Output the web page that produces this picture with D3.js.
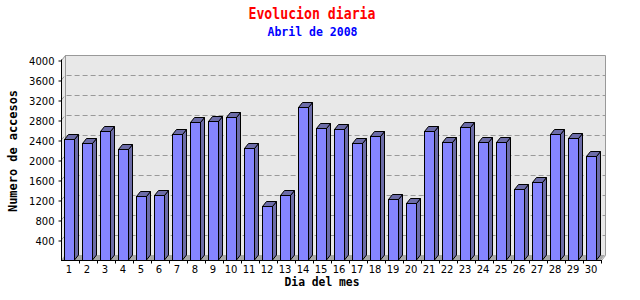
<!DOCTYPE html>
<html>
<head>
<meta charset="utf-8">
<script src="https://cdn.jsdelivr.net/npm/d3@7"></script>
<style>
  body { margin: 0; background: #fff; }
  .tick-label { font-family: "DejaVu Sans", sans-serif; font-size: 10px; fill: #000; }
  .mono { font-family: "DejaVu Sans Mono", monospace; font-weight: bold; }
</style>
</head>
<body>
<div id="chart"></div>
<script>
// dias del mes y accesos
var days = d3.range(1, 31).map(String);
var accesos = [2430, 2350, 2590, 2230, 1290, 1310, 2530, 2770, 2790, 2870,
               2250, 1090, 1310, 3070, 2650, 2630, 2350, 2490, 1230, 1150,
               2590, 2370, 2670, 2370, 2370, 1430, 1570, 2530, 2450, 2090];
var yTicks = [400, 800, 1200, 1600, 2000, 2400, 2800, 3200, 3600, 4000];
var gridValues = [400, 800, 1200, 1600, 2000, 2400, 2800, 3200, 3600];

var width = 640, height = 300;
var pLeft = 61, pRight = 601, pTop = 60, pBottom = 260;
var dx = 4, dy = 5;   // 3d depth

var svg = d3.select("#chart").append("svg")
    .attr("width", width)
    .attr("height", height);

var x = d3.scaleBand().domain(days).range([pLeft, pRight]);
var y = d3.scaleLinear().domain([0, 4000]).range([pBottom, pTop]);

// back wall + left side
svg.append("path")
    .attr("d", "M" + pLeft + "," + pBottom + "L" + pLeft + "," + pTop +
               "L" + (pLeft + dx) + "," + (pTop - dy) +
               "L" + (pRight + dx) + "," + (pTop - dy) +
               "L" + (pRight + dx) + "," + (pBottom - dy) +
               "L" + pRight + "," + pBottom + "Z")
    .style("fill", "#e8e8e8");

// floor
svg.append("path")
    .attr("d", "M" + pLeft + "," + pBottom + "L" + (pLeft + dx) + "," + (pBottom - dy) +
               "L" + (pRight + dx) + "," + (pBottom - dy) + "L" + pRight + "," + pBottom + "Z")
    .style("fill", "#a8a8a8");

// wall border
svg.append("path")
    .attr("d", "M" + (pLeft + 0.5) + "," + (pTop + 0.5) + "L" + (pLeft + dx + 0.5) + "," + (pTop - dy + 0.5) +
               "L" + (pRight + dx + 0.5) + "," + (pTop - dy + 0.5) +
               "L" + (pRight + dx + 0.5) + "," + (pBottom - dy + 0.5) +
               "L" + (pRight + 0.5) + "," + (pBottom + 0.5))
    .style("fill", "none")
    .style("stroke", "#999");
svg.append("line")
    .attr("x1", pLeft + dx + 0.5).attr("x2", pLeft + dx + 0.5)
    .attr("y1", pTop - dy).attr("y2", pBottom - dy)
    .style("stroke", "#999");

// gridlines
svg.append("g").selectAll("path")
    .data(gridValues)
    .enter().append("path")
    .attr("d", function(d) {
        var yy = Math.round(y(d)) + 0.5;
        return "M" + pLeft + "," + yy + "L" + (pLeft + dx) + "," + (yy - dy) +
               "L" + (pRight + dx) + "," + (yy - dy);
    })
    .style("fill", "none")
    .style("stroke", "#999")
    .style("stroke-dasharray", "5,3");

// bars
var bw = 10;
var bars = svg.append("g").selectAll("g")
    .data(accesos)
    .enter().append("g");

bars.append("path")  // side
    .attr("d", function(d, i) {
        var x1 = x(days[i]) + 3.5 + bw, yt = Math.round(y(d)) + 0.5;
        return "M" + x1 + "," + pBottom + "L" + x1 + "," + yt +
               "L" + (x1 + dx) + "," + (yt - dy) + "L" + (x1 + dx) + "," + (pBottom - dy) + "Z";
    })
    .style("fill", "#6c6ca8")
    .style("stroke", "#000")
    .style("stroke-linejoin", "round");

bars.append("path")  // top
    .attr("d", function(d, i) {
        var x0 = x(days[i]) + 3.5, yt = Math.round(y(d)) + 0.5;
        return "M" + x0 + "," + yt + "L" + (x0 + dx) + "," + (yt - dy) +
               "L" + (x0 + bw + dx) + "," + (yt - dy) + "L" + (x0 + bw) + "," + yt + "Z";
    })
    .style("fill", "#6c6ca8")
    .style("stroke", "#000")
    .style("stroke-linejoin", "round");

bars.append("rect")  // front
    .attr("x", function(d, i) { return x(days[i]) + 3.5; })
    .attr("y", function(d) { return Math.round(y(d)) + 0.5; })
    .attr("width", bw)
    .attr("height", function(d) { return pBottom - Math.round(y(d)); })
    .style("fill", "#8585ff")
    .style("stroke", "#000");

// y axis
var yAxis = svg.append("g")
    .attr("transform", "translate(" + (pLeft + 0.5) + ",0.5)")
    .call(d3.axisLeft(y).tickValues(yTicks).tickFormat(d3.format("d"))
          .tickSize(3).tickPadding(4).tickSizeOuter(0));
yAxis.select(".domain").attr("d", "M0," + (pTop - 1) + "V" + pBottom);
yAxis.selectAll("text").attr("class", "tick-label").attr("dy", "0.35em");

// x axis
var xAxis = svg.append("g")
    .attr("transform", "translate(0," + (pBottom + 0.5) + ")");
xAxis.append("line")
    .attr("x1", pLeft).attr("x2", pRight + 1)
    .style("stroke", "#000");
xAxis.selectAll(".xt")
    .data(days)
    .enter().append("line")
    .attr("class", "xt")
    .attr("x1", function(d) { return x(d) + x.bandwidth() + 0.5; })
    .attr("x2", function(d) { return x(d) + x.bandwidth() + 0.5; })
    .attr("y1", 0).attr("y2", 3)
    .style("stroke", "#000");
xAxis.selectAll(".xl")
    .data(days)
    .enter().append("text")
    .attr("class", "tick-label")
    .attr("x", function(d) { return x(d) + x.bandwidth() / 2 - 1; })
    .attr("y", 12.5)
    .attr("text-anchor", "middle")
    .text(function(d) { return d; });

// titles
svg.append("text")
    .attr("class", "mono")
    .attr("x", 312).attr("y", 19)
    .attr("text-anchor", "middle")
    .attr("textLength", 127).attr("lengthAdjust", "spacingAndGlyphs")
    .style("font-size", "15px")
    .style("fill", "#ff0000")
    .text("Evolucion diaria");

svg.append("text")
    .attr("class", "mono")
    .attr("x", 312.5).attr("y", 36)
    .attr("text-anchor", "middle")
    .attr("textLength", 90).attr("lengthAdjust", "spacingAndGlyphs")
    .style("font-size", "12px")
    .style("fill", "#0000ff")
    .text("Abril de 2008");

svg.append("text")
    .attr("class", "mono")
    .attr("transform", "translate(17,151) rotate(-90)")
    .attr("text-anchor", "middle")
    .attr("textLength", 122).attr("lengthAdjust", "spacingAndGlyphs")
    .style("font-size", "12px")
    .text("Numero de accesos");

svg.append("text")
    .attr("class", "mono")
    .attr("x", 322).attr("y", 286)
    .attr("text-anchor", "middle")
    .attr("textLength", 75).attr("lengthAdjust", "spacingAndGlyphs")
    .style("font-size", "12px")
    .text("Dia del mes");
</script>
</body>
</html>
